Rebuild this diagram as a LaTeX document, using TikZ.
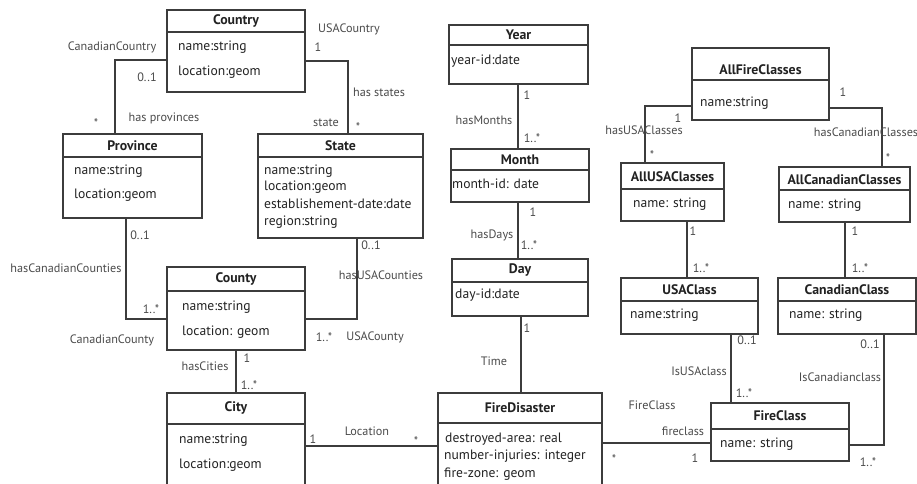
\documentclass[tikz,border=0pt]{standalone}
\usepackage{fontspec}
\setmainfont{PT Sans}
\usepackage{tikz}
\usetikzlibrary{ % tikz packages
    positioning,calc
}
\definecolor{umlline}{HTML}{3C3C3C}
\definecolor{umltext}{HTML}{222222}
\definecolor{umllabel}{HTML}{4A4A4A}
\tikzset{classbox/.style={
    draw=umlline,
    line width=1.3pt,
    rectangle,
    inner sep=0pt
}}
\tikzset{classtitle/.style={
    font=\fontsize{13.8}{15}\selectfont\bfseries,
    text=umltext,
    inner sep=0pt
}}
\tikzset{attr/.style={
    font=\fontsize{13.6}{15}\selectfont,
    text=umltext,
    anchor=west,
    inner sep=0pt
}}
\tikzset{role/.style={
    font=\fontsize{12.2}{14}\selectfont,
    text=umllabel,
    inner sep=0pt
}}
\tikzset{assoc/.style={
    draw=umlline,
    line width=1.1pt
}}

% name, left, top, right, bottom, separator, title y, title
\newcommand{\umlclass}[8]{
    \node[classbox, minimum width={(#4-#2)*1pt}, minimum height={(#5-#3)*1pt}]
        (#1) at ({(#2+#4)/2},{(#3+#5)/2}) {};
    \draw[classbox] (#1.west |- 0,#6) -- (#1.east |- 0,#6);
    \node[classtitle] (#1-title) at (#1.north |- 0,#7) {#8};
}

\begin{document}
\begin{tikzpicture}[x=1pt,y=-1pt]
    \useasboundingbox (0,0) rectangle (917,483);

    % classes
    \umlclass{country}{167}{10}{305}{92}{32}{21}{Country}
    \umlclass{province}{63}{134}{202}{218}{157}{146}{Province}
    \umlclass{state}{258}{134}{423}{238}{157}{146}{State}
    \umlclass{county}{167}{267}{305}{350}{291}{279}{County}
    \umlclass{city}{167}{393}{305}{500}{424}{408}{City}
    \umlclass{year}{449}{25}{588}{84}{45}{35}{Year}
    \umlclass{month}{451}{149}{589}{202}{170}{160}{Month}
    \umlclass{day}{452}{259}{588}{316}{282}{270}{Day}
    \umlclass{firedisaster}{438}{393}{602}{500}{423}{408}{FireDisaster}
    \umlclass{fireclass}{711}{403}{849}{461}{429}{416}{FireClass}
    \umlclass{usaclass}{621}{278}{758}{334}{301}{290}{USAClass}
    \umlclass{canadianclass}{778}{278}{916}{334}{301}{290}{CanadianClass}
    \umlclass{allfireclasses}{692}{48}{829}{120}{80}{70}{AllFireClasses}
    \umlclass{allusaclasses}{621}{163}{724}{221}{189}{177}{AllUSAClasses}
    \umlclass{allcanadianclasses}{779}{167}{910}{222}{190}{180}{AllCanadianClasses}

    % attributes
    \node[attr] (country-a1) at (178,47) {name:string};
    \node[attr] (country-a2) at (178,72) {location:geom};
    \node[attr] (province-a1) at (74,171) {name:string};
    \node[attr] (province-a2) at (74,195) {location:geom};
    \node[attr] (state-a1) at (264,171) {name:string};
    \node[attr] (state-a2) at (264,187) {location:geom};
    \node[attr] (state-a3) at (264,204) {establishement-date:date};
    \node[attr] (state-a4) at (264,222) {region:string};
    \node[attr] (county-a1) at (182,307) {name:string};
    \node[attr] (county-a2) at (182,332) {location: geom};
    \node[attr] (city-a1) at (179,440) {name:string};
    \node[attr] (city-a2) at (179,465) {location:geom};
    \node[attr] (year-a1) at (451,61) {year-id:date};
    \node[attr] (month-a1) at (452,184) {month-id: date};
    \node[attr] (day-a1) at (455,295) {day-id:date};
    \node[attr] (firedisaster-a1) at (445,439) {destroyed-area: real};
    \node[attr] (firedisaster-a2) at (444,456) {number-injuries: integer};
    \node[attr] (firedisaster-a3) at (444,474) {fire-zone: geom};
    \node[attr] (fireclass-a1) at (720,444) {name: string};
    \node[attr] (usaclass-a1) at (630,315) {name:string};
    \node[attr] (canadianclass-a1) at (789,315) {name: string};
    \node[attr] (allfireclasses-a1) at (700,103) {name:string};
    \node[attr] (allusaclasses-a1) at (633,204) {name: string};
    \node[attr] (allcanadianclasses-a1) at (788,205) {name: string};

    % associations
    \path[assoc]
        (country.west |- 0,60) -| (province.north -| 115,0)
        (country.east |- 0,61) -| (state.north -| 348,0)
        (province.south -| 126,0) |- (county.west |- 0,319)
        (state.south -| 357,0) |- (county.east |- 0,319)
        (county.south -| 236,0) -- (city.north -| 236,0)
        (city.east |- 0,446) -- (firedisaster.west |- 0,446)
        (year.south -| 518,0) -- (month.north -| 518,0)
        (month.south -| 518,0) -- (day.north -| 518,0)
        (day.south -| 521,0) -- (firedisaster.north -| 521,0)
        (firedisaster.east |- 0,443) -- (fireclass.west |- 0,443)
        (usaclass.south -| 731,0) -- (fireclass.north -| 731,0)
        (canadianclass.south -| 884,0) |- (fireclass.east |- 0,445)
        (allfireclasses.west |- 0,106) -| (allusaclasses.north -| 645,0)
        (allfireclasses.east |- 0,108) -| (allcanadianclasses.north -| 882,0)
        (allusaclasses.south -| 687,0) -- (usaclass.north -| 687,0)
        (allcanadianclasses.south -| 845,0) -- (canadianclass.north -| 845,0);

    % roles and multiplicities
    \node[role] (l-cc) at (112,47) {CanadianCountry};
    \node[role] (m-cc) at (147,77) {0..1};
    \node[role] (m-pr) at (96,123) {*};
    \node[role] (l-hp) at (164,118) {has provinces};
    \node[role] (l-uc) at (349,29) {USACountry};
    \node[role] (m-uc) at (318,47) {1};
    \node[role] (l-hs) at (379,92) {has states};
    \node[role] (l-st) at (326,123) {state};
    \node[role] (m-st) at (358,127) {*};
    \node[role] (m-pc) at (140,235) {0..1};
    \node[role] (l-hcc) at (66,268) {hasCanadianCounties};
    \node[role] (m-ccy) at (151,309) {1..*};
    \node[role] (l-ccy) at (112,340) {CanadianCounty};
    \node[role] (m-sc) at (371,245) {0..1};
    \node[role] (l-huc) at (381,275) {hasUSACounties};
    \node[role] (m-ucy) at (324,337) {1..*};
    \node[role] (l-ucy) at (375,337) {USACounty};
    \node[role] (m-cy) at (247,358) {1};
    \node[role] (l-hc) at (205,366) {hasCities};
    \node[role] (m-ci) at (249,385) {1..*};
    \node[role] (m-loc1) at (313,439) {1};
    \node[role] (l-loc) at (367,431) {Location};
    \node[role] (m-loc2) at (416,441) {*};
    \node[role] (m-yr) at (527,95) {1};
    \node[role] (l-hm) at (484,120) {hasMonths};
    \node[role] (m-mo) at (532,138) {1..*};
    \node[role] (m-mo2) at (533,212) {1};
    \node[role] (l-hd) at (492,235) {hasDays};
    \node[role] (m-dy) at (529,245) {1..*};
    \node[role] (m-dy2) at (527,328) {1};
    \node[role] (l-time) at (494,361) {Time};
    \node[role] (m-fd) at (614,459) {*};
    \node[role] (m-fc) at (695,458) {1};
    \node[role] (l-fcr) at (683,431) {fireclass};
    \node[role] (l-fca) at (652,405) {FireClass};
    \node[role] (m-usc) at (747,340) {0..1};
    \node[role] (l-iu) at (699,371) {IsUSAclass};
    \node[role] (m-fc2) at (744,393) {1..*};
    \node[role] (m-cac) at (870,344) {0..1};
    \node[role] (l-ic) at (840,377) {IsCanadianclass};
    \node[role] (m-fc3) at (868,462) {1..*};
    \node[role] (m-af1) at (678,118) {1};
    \node[role] (l-hu) at (644,130) {hasUSAClasses};
    \node[role] (m-au) at (652,155) {*};
    \node[role] (m-af2) at (843,92) {1};
    \node[role] (l-hca) at (866,132) {hasCanadianClasses};
    \node[role] (m-ac) at (888,158) {*};
    \node[role] (m-au2) at (693,231) {1};
    \node[role] (m-us) at (701,268) {1..*};
    \node[role] (m-ac2) at (855,231) {1};
    \node[role] (m-ca) at (860,268) {1..*};
\end{tikzpicture}
\end{document}
